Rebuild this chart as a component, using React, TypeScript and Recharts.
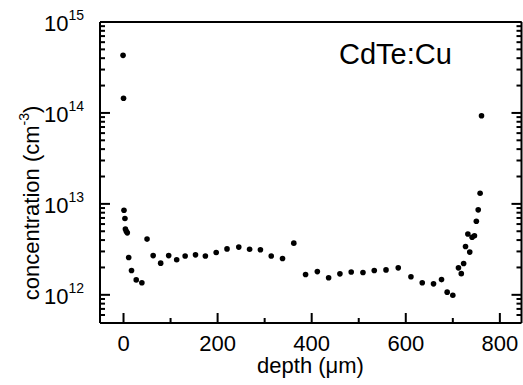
import React from 'react';
import { ScatterChart, Scatter, XAxis, YAxis } from 'recharts';

// depth in µm
const depth = [
  -1, 0, 1, 3, 4, 6, 8, 11, 17, 27, 39, 50, 63, 79, 96, 113, 131, 153, 174, 197,
  220, 245, 268, 291, 314, 338, 362, 387, 412, 436, 460, 484, 509, 533, 558, 584,
  611, 635, 659, 676, 688, 700, 712, 718, 723, 727, 732, 736, 741, 746, 750, 754,
  758, 761,
];
// concentration in cm^-3
const concentration = [
  4.3e14, 1.45e14, 8.5e12, 6.9e12, 5.3e12, 5.0e12, 4.8e12, 2.57e12, 1.85e12, 1.46e12,
  1.36e12, 4.1e12, 2.7e12, 2.23e12, 2.7e12, 2.43e12, 2.67e12, 2.75e12, 2.67e12, 2.92e12,
  3.2e12, 3.35e12, 3.17e12, 3.13e12, 2.67e12, 2.51e12, 3.7e12, 1.67e12, 1.8e12, 1.54e12,
  1.7e12, 1.78e12, 1.76e12, 1.85e12, 1.88e12, 1.98e12, 1.58e12, 1.36e12, 1.32e12, 1.47e12,
  1.07e12, 0.99e12, 1.98e12, 1.71e12, 2.21e12, 3.4e12, 4.66e12, 2.95e12, 4.3e12, 4.46e12,
  6.45e12, 8.6e12, 1.31e13, 9.3e13,
];

const xMajorTicks = [0, 200, 400, 600, 800];
const xMinorTicks = [100, 300, 500, 700];
const yMajorExponents = [12, 13, 14, 15];
const yMinorTicks = [
  6e11, 7e11, 8e11, 9e11,
  2e12, 3e12, 4e12, 5e12, 6e12, 7e12, 8e12, 9e12,
  2e13, 3e13, 4e13, 5e13, 6e13, 7e13, 8e13, 9e13,
  2e14, 3e14, 4e14, 5e14, 6e14, 7e14, 8e14, 9e14,
];
const sampleLabel = 'CdTe:Cu';
const xTitle = 'depth (\u03bcm)';
const yTitleMain = 'concentration (cm';
const yTitleSup = '-3';
const yTitleEnd = ')';

const X_DOMAIN: [number, number] = [-50, 846];
const Y_DOMAIN: [number, number] = [4.9e11, 1e15];

const FONT = '"Liberation Sans", Arial, Helvetica, sans-serif';
const MAJOR = 10;
const MINOR = 5;
const TICK_W = 2;

const data = depth.map((d, i) => ({ depth: d, conc: concentration[i] }));
const xTicks = [...xMajorTicks, ...xMinorTicks].sort((a, b) => a - b);
const yMajorTicks = yMajorExponents.map((e) => Math.pow(10, e));
const yTicks = [...yMinorTicks, ...yMajorTicks].sort((a, b) => a - b);

const isYMajor = (v: number) => yMajorTicks.some((m) => Math.abs(m - v) / m < 1e-9);
const isXMajor = (v: number) => xMajorTicks.some((m) => Math.abs(m - v) < 1e-6);

const BottomTick = (props: any) => {
  const { x, y, payload } = props;
  const major = isXMajor(payload.value);
  const len = major ? MAJOR : MINOR;
  return (
    <g>
      <rect x={x - TICK_W / 2} y={y - len} width={TICK_W} height={len} fill="#000" />
      {major && (
        <text x={x} y={y + 28} textAnchor="middle" fontSize={22} fontFamily={FONT} fill="#000">
          {payload.value}
        </text>
      )}
    </g>
  );
};

const TopTick = (props: any) => {
  const { x, y, payload } = props;
  const len = isXMajor(payload.value) ? MAJOR : MINOR;
  return <rect x={x - TICK_W / 2} y={y} width={TICK_W} height={len} fill="#000" />;
};

const LeftTick = (props: any) => {
  const { x, y, payload } = props;
  const major = isYMajor(payload.value);
  const len = major ? MAJOR : MINOR;
  const exp = Math.round(Math.log10(payload.value));
  return (
    <g>
      <rect x={x} y={y - TICK_W / 2} width={len} height={TICK_W} fill="#000" />
      {major && (
        <text x={x - 16} y={y + 9} textAnchor="end" fontSize={22} fontFamily={FONT} fill="#000">
          <tspan>10</tspan>
          <tspan dy={-11} fontSize={14}>{exp}</tspan>
        </text>
      )}
    </g>
  );
};

const RightTick = (props: any) => {
  const { x, y, payload } = props;
  const len = isYMajor(payload.value) ? MAJOR : MINOR;
  return <rect x={x - len} y={y - TICK_W / 2} width={len} height={TICK_W} fill="#000" />;
};

const Dot = (props: any) => {
  const { cx, cy } = props;
  if (cx == null || cy == null) return null;
  return <circle cx={cx} cy={cy} r={2.8} fill="#000" />;
};

const axisLine = { stroke: '#000', strokeWidth: 2 };

export default function App() {
  return (
    <div style={{ position: 'absolute', left: 0, top: 0, width: 523, height: 385, background: '#fff' }}>
      <ScatterChart width={523} height={385} margin={{ top: 21, right: 0.5, bottom: 0, left: 0 }}>
        <XAxis
          xAxisId={0}
          dataKey="depth"
          type="number"
          domain={X_DOMAIN}
          allowDataOverflow
          ticks={xTicks}
          interval={0}
          tickSize={0}
          tickMargin={0}
          tickLine={false}
          axisLine={axisLine}
          tick={<BottomTick />}
          height={62}
        />
        <XAxis
          xAxisId="top"
          orientation="top"
          type="number"
          domain={X_DOMAIN}
          allowDataOverflow
          ticks={xTicks}
          interval={0}
          tickSize={0}
          tickMargin={0}
          tickLine={false}
          axisLine={axisLine}
          tick={<TopTick />}
          height={1}
        />
        <YAxis
          yAxisId={0}
          dataKey="conc"
          type="number"
          scale="log"
          domain={Y_DOMAIN}
          allowDataOverflow
          ticks={yTicks}
          interval={0}
          tickSize={0}
          tickMargin={0}
          tickLine={false}
          axisLine={axisLine}
          tick={<LeftTick />}
          width={100}
        />
        <YAxis
          yAxisId="right"
          orientation="right"
          type="number"
          scale="log"
          domain={Y_DOMAIN}
          allowDataOverflow
          ticks={yTicks}
          interval={0}
          tickSize={0}
          tickMargin={0}
          tickLine={false}
          axisLine={axisLine}
          tick={<RightTick />}
          width={1}
        />
        <Scatter data={data} xAxisId={0} yAxisId={0} shape={<Dot />} isAnimationActive={false} />
        <text x={339} y={64} fontSize={29} fontFamily={FONT} fill="#000">
          {sampleLabel}
        </text>
        <text x={310.5} y={373} textAnchor="middle" fontSize={22} fontFamily={FONT} fill="#000">
          {xTitle}
        </text>
        <text
          x={39}
          y={203}
          textAnchor="middle"
          fontSize={22}
          fontFamily={FONT}
          fill="#000"
          transform="rotate(-90 39 203)"
        >
          <tspan>{yTitleMain}</tspan>
          <tspan dy={-10} fontSize={14}>{yTitleSup}</tspan>
          <tspan dy={10}>{yTitleEnd}</tspan>
        </text>
      </ScatterChart>
    </div>
  );
}
